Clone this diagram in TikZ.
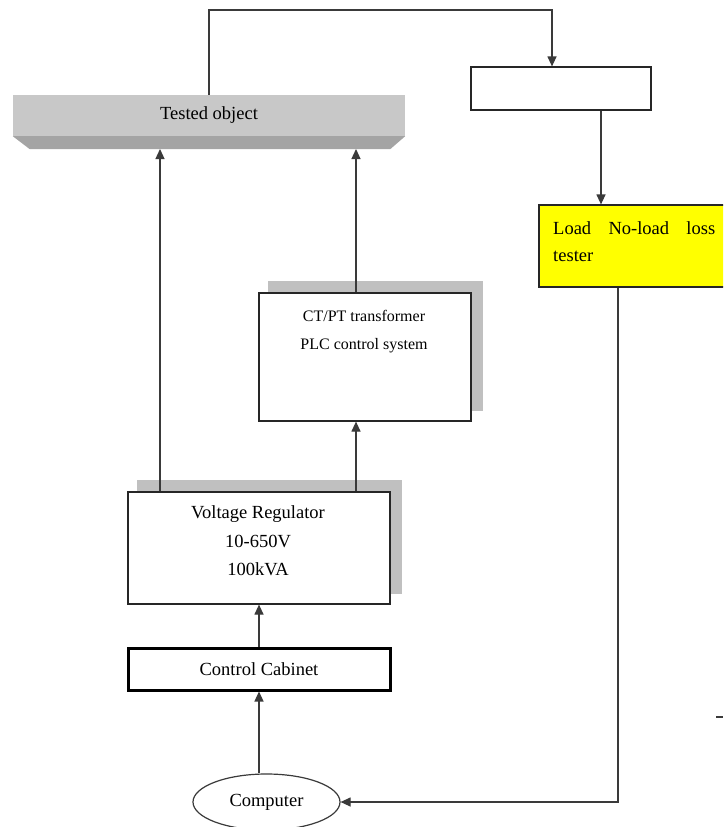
\documentclass[tikz,border=0pt]{standalone}
\usepackage{fontspec}
\setmainfont{Liberation Serif}
\usetikzlibrary{arrows.meta,shapes.geometric,backgrounds,calc}
\definecolor{topgray}{HTML}{C8C8C8}
\definecolor{bevelgray}{HTML}{A4A4A4}
\definecolor{shadowgray}{HTML}{C0C0C0}
\definecolor{linecol}{HTML}{3A3A3A}
\definecolor{tyellow}{HTML}{FFFF00}
\begin{document}
\begin{tikzpicture}[x=1pt,y=-1pt,
  conn/.style={draw=linecol, line width=1.2pt},
  arr/.style={conn, -{Triangle[length=10pt,width=9pt]}},
  box/.style={draw=black!85, line width=1.2pt, fill=white, inner sep=0pt},
  txt/.style={inner sep=0pt, font=\fontsize{18.5}{28.5}\selectfont, align=center},
  smalltxt/.style={inner sep=0pt, font=\fontsize{16}{28}\selectfont, align=center}
]
\useasboundingbox (0,0) rectangle (723,827);
\clip (0,0) rectangle (723,827);

% Tested object
\node[fill=topgray, minimum width=392pt, minimum height=41pt, inner sep=0pt,
      font=\fontsize{18.5}{22}\selectfont] (tested) at (209,115.5) {Tested object};
\fill[bevelgray] (tested.south west) -- (tested.south east) -- ++(-15,13) -- ($(tested.south west)+(17,13)$) -- cycle;

% top right empty box
\node[box, minimum width=180pt, minimum height=43pt] (blank) at (561,88.5) {};

% yellow tester
\node[draw=black!85, line width=1.2pt, fill=tyellow, minimum width=210pt, minimum height=82pt, inner sep=0pt] (tester) at (644,246) {};
\node[inner sep=0pt, anchor=north west, align=left, font=\fontsize{18.5}{27}\selectfont] (testertext) at (553,221.5)
  {\makebox[162pt][s]{Load No-load loss}\\tester};

% CT/PT box
\node[box, minimum width=212pt, minimum height=128pt] (ctpt) at (365,357) {};
\node[smalltxt, anchor=north] (ctpttext) at (364,310) {CT/PT transformer\\PLC control system};

% Voltage regulator
\node[box, minimum width=262pt, minimum height=112pt] (vr) at (259,548) {};
\node[txt, anchor=north] (vrtext) at (258,505.5) {Voltage Regulator\\10-650V\\100kVA};

% Control cabinet
\node[draw=black, line width=3pt, fill=white, minimum width=262pt, minimum height=42pt, inner sep=0pt,
      font=\fontsize{18.5}{22}\selectfont] (cc) at (259,669) {Control Cabinet};

% Computer
\node[ellipse, draw=linecol, line width=1.2pt, fill=white, minimum width=147pt, minimum height=56pt, inner sep=0pt,
      font=\fontsize{18.5}{22}\selectfont] (comp) at (266.5,802) {Computer};

% shadows
\begin{scope}[on background layer]
  \fill[white] (0,0) rectangle (723,827);
  \fill[shadowgray] ([shift={(10,-11)}]ctpt.south west) rectangle ([shift={(11,-11)}]ctpt.north east);
  \fill[shadowgray] ([shift={(10,-11)}]vr.south west) rectangle ([shift={(11,-11)}]vr.north east);
\end{scope}

% helper coordinates
\coordinate (inL) at (160,149);
\coordinate (inR) at (356,149);
\coordinate (tcorner) at (552,10);
\coordinate (c601) at (601,0);
\coordinate (c618) at (618,0);
\coordinate (tickA) at (716,717);
\coordinate (tickB) at (723,717);

% connectors
\draw[arr] (vr.north -| inL) -- (inL);
\draw[arr] (vr.north -| inR) -- (ctpt.south -| inR);
\draw[arr] (ctpt.north -| inR) -- (inR);
\draw[arr] (cc.north) -- (vr.south);
\draw[arr] (cc.south |- comp.north) -- (cc.south);
\draw[arr] (tested.north) -- (tested.north |- tcorner) -- (tcorner) -- (blank.north -| tcorner);
\draw[arr] (blank.south -| c601) -- (tester.north -| c601);
\draw[arr] (tester.south -| c618) -- (c618 |- comp.east) -- (comp.east);
\draw[conn] (tickA) -- (tickB);
\end{tikzpicture}
\end{document}
